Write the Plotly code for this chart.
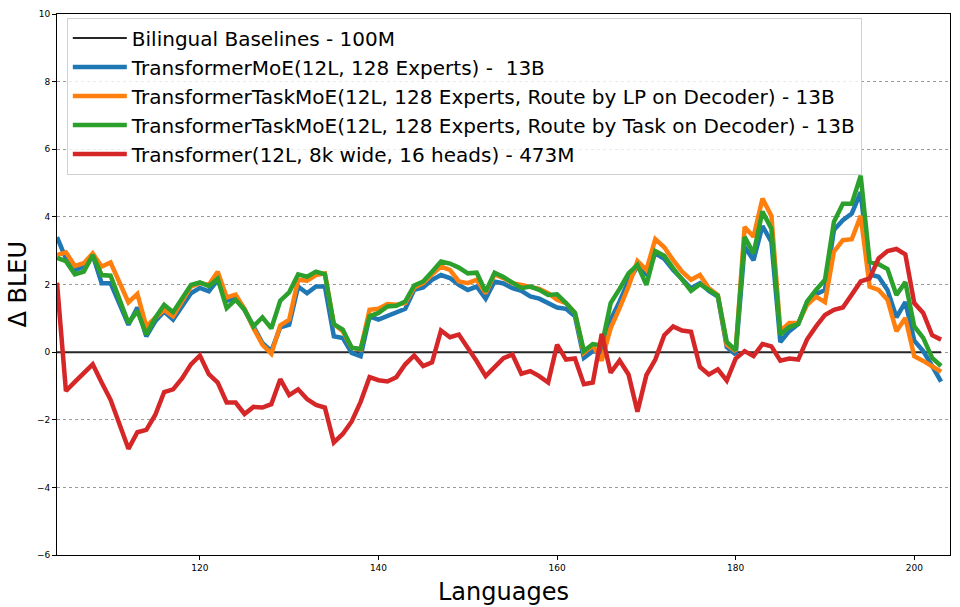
import plotly.graph_objects as go

languages = list(range(104, 204))

baseline = [0.0] * len(languages)

moe = [3.4, 2.77, 2.43, 2.53, 2.87, 2.04, 2.04, 1.4, 0.81, 1.32,
       0.47, 0.91, 1.2, 0.96, 1.35, 1.74, 1.9, 1.8, 2.14, 1.52,
       1.6, 1.25, 0.76, 0.27, 0.03, 0.73, 0.81, 1.94, 1.74, 1.94,
       1.94, 0.47, 0.42, -0.02, -0.12, 1.06, 0.96, 1.06, 1.16, 1.28,
       1.84, 1.91, 2.14, 2.28, 2.19, 1.99, 1.84, 1.94, 1.58, 2.09,
       2.03, 1.89, 1.81, 1.65, 1.58, 1.45, 1.32, 1.28, 1.06, -0.17,
       0.03, -0.02, 0.96, 1.5, 2.11, 2.53, 2.3, 2.92, 2.76, 2.43,
       2.14, 1.89, 2.04, 1.81, 1.64, 0.15, -0.07, 3.12, 2.72, 3.73,
       3.26, 0.3, 0.62, 0.83, 1.48, 1.71, 1.84, 3.61, 3.9, 4.1,
       4.73, 2.3, 2.23, 1.84, 1.03, 1.48, 0.34, 0.03, -0.41, -0.87]

task_lp = [2.87, 2.95, 2.55, 2.63, 2.92, 2.53, 2.65, 2.09, 1.47, 1.72,
           0.76, 1.01, 1.25, 1.06, 1.5, 1.94, 2.04, 1.99, 2.38, 1.62,
           1.7, 1.28, 0.71, 0.22, -0.05, 0.79, 0.96, 2.14, 2.11, 2.28,
           2.33, 0.83, 0.62, 0.13, 0.08, 1.25, 1.28, 1.42, 1.4, 1.45,
           1.91, 2.04, 2.3, 2.53, 2.43, 2.09, 2.04, 2.14, 1.74, 2.3,
           2.19, 2.04, 1.99, 1.94, 1.87, 1.74, 1.55, 1.45, 1.16, -0.02,
           0.2, -0.25, 0.71, 1.3, 1.94, 2.69, 2.43, 3.34, 3.1, 2.72,
           2.38, 2.14, 2.28, 1.89, 1.69, 0.22, 0.03, 3.7, 3.41, 4.54,
           4.03, 0.62, 0.86, 0.86, 1.4, 1.64, 1.48, 2.97, 3.31, 3.34,
           4.03, 1.94, 1.84, 1.55, 0.62, 1.01, -0.12, -0.26, -0.44, -0.58]

task_task = [2.79, 2.69, 2.3, 2.38, 2.87, 2.28, 2.26, 1.55, 0.86, 1.22,
             0.52, 1.01, 1.4, 1.18, 1.6, 1.99, 2.06, 1.95, 2.17, 1.3,
             1.55, 1.25, 0.76, 1.03, 0.7, 1.52, 1.77, 2.3, 2.23, 2.38,
             2.3, 0.83, 0.67, 0.13, 0.09, 1.06, 1.16, 1.35, 1.37, 1.5,
             1.97, 2.09, 2.38, 2.68, 2.62, 2.5, 2.33, 2.35, 1.79, 2.35,
             2.22, 2.05, 1.89, 1.94, 1.84, 1.69, 1.71, 1.45, 1.16, 0.03,
             0.24, 0.2, 1.45, 1.87, 2.33, 2.58, 1.99, 2.99, 2.85, 2.48,
             2.14, 1.81, 2.01, 1.84, 1.67, 0.3, 0.05, 3.41, 2.92, 4.16,
             3.65, 0.52, 0.74, 0.83, 1.5, 1.84, 2.14, 3.85, 4.39, 4.39,
             5.22, 2.67, 2.6, 2.46, 1.69, 2.07, 0.76, 0.42, -0.17, -0.41]

dense = [2.05, -1.15, -0.88, -0.6, -0.36, -0.9, -1.41, -2.13, -2.86, -2.37,
         -2.3, -1.86, -1.18, -1.1, -0.78, -0.36, -0.1, -0.65, -0.9, -1.49,
         -1.49, -1.83, -1.62, -1.64, -1.54, -0.8, -1.27, -1.1, -1.39, -1.56,
         -1.64, -2.67, -2.42, -2.05, -1.47, -0.74, -0.83, -0.87, -0.74, -0.36,
         -0.1, -0.41, -0.3, 0.64, 0.44, 0.52, 0.13, -0.27, -0.71, -0.46,
         -0.18, -0.07, -0.64, -0.56, -0.71, -0.9, 0.22, -0.22, -0.19, -0.95,
         -0.9, 0.54, -0.61, -0.25, -0.66, -1.76, -0.68, -0.22, 0.5, 0.76,
         0.64, 0.6, -0.44, -0.66, -0.51, -0.84, -0.19, 0.03, -0.12, 0.24,
         0.17, -0.25, -0.19, -0.22, 0.38, 0.76, 1.1, 1.25, 1.32, 1.7,
         2.09, 2.18, 2.77, 2.99, 3.05, 2.89, 1.45, 1.16, 0.5, 0.37]

series = [
    ("Bilingual Baselines - 100M", baseline, "#262626", 2),
    ("TransformerMoE(12L, 128 Experts) - \u00a013B", moe, "#1f77b4", 4.5),
    ("TransformerTaskMoE(12L, 128 Experts, Route by LP on Decoder) - 13B", task_lp, "#ff7f0e", 4.5),
    ("TransformerTaskMoE(12L, 128 Experts, Route by Task on Decoder) - 13B", task_task, "#2ca02c", 4.5),
    ("Transformer(12L, 8k wide, 16 heads) - 473M", dense, "#d62728", 4.5),
]

fig = go.Figure()
for name, vals, color, w in series:
    fig.add_trace(go.Scatter(x=languages, y=vals, mode="lines", name=name,
                             line=dict(color=color, width=w)))

font = "DejaVu Sans"
fig.update_layout(
    width=960, height=607,
    margin=dict(l=57, r=9, t=11, b=52),
    paper_bgcolor="white", plot_bgcolor="white",
    font=dict(family=font, color="black"),
    showlegend=True,
    legend=dict(x=0.011, y=0.9935, xanchor="left", yanchor="top",
                bgcolor="rgba(255,255,255,0.8)", bordercolor="#d0d0d0",
                borderwidth=1, font=dict(family=font, size=20, color="black"),
                tracegroupgap=0, itemwidth=54),
    xaxis=dict(range=[104, 204], tickvals=[120, 140, 160, 180, 200],
               showline=True, linecolor="black", linewidth=1, mirror=True,
               ticks="outside", ticklen=4, tickcolor="black",
               showgrid=False, zeroline=False,
               tickfont=dict(family=font, size=9, color="black")),
    yaxis=dict(range=[-6, 10], tickvals=list(range(-6, 11, 2)),
               showline=True, linecolor="black", linewidth=1, mirror=True,
               ticks="outside", ticklen=4, tickcolor="black",
               showgrid=True, gridcolor="#9a9a9a", gridwidth=1, griddash="dot",
               zeroline=False,
               tickfont=dict(family=font, size=9, color="black")),
    annotations=[
        dict(text="Languages", xref="paper", yref="paper", x=0.5, y=-0.0385,
             xanchor="center", yanchor="top", showarrow=False,
             font=dict(family=font, size=24, color="black")),
        dict(text="\u0394 BLEU", xref="paper", yref="paper", x=-0.0447, y=0.5,
             xanchor="center", yanchor="middle", textangle=-90, showarrow=False,
             font=dict(family=font, size=24, color="black")),
    ],
)

fig.write_html("out.html", config={"displayModeBar": False},
               post_script="document.body.style.margin='0';")
